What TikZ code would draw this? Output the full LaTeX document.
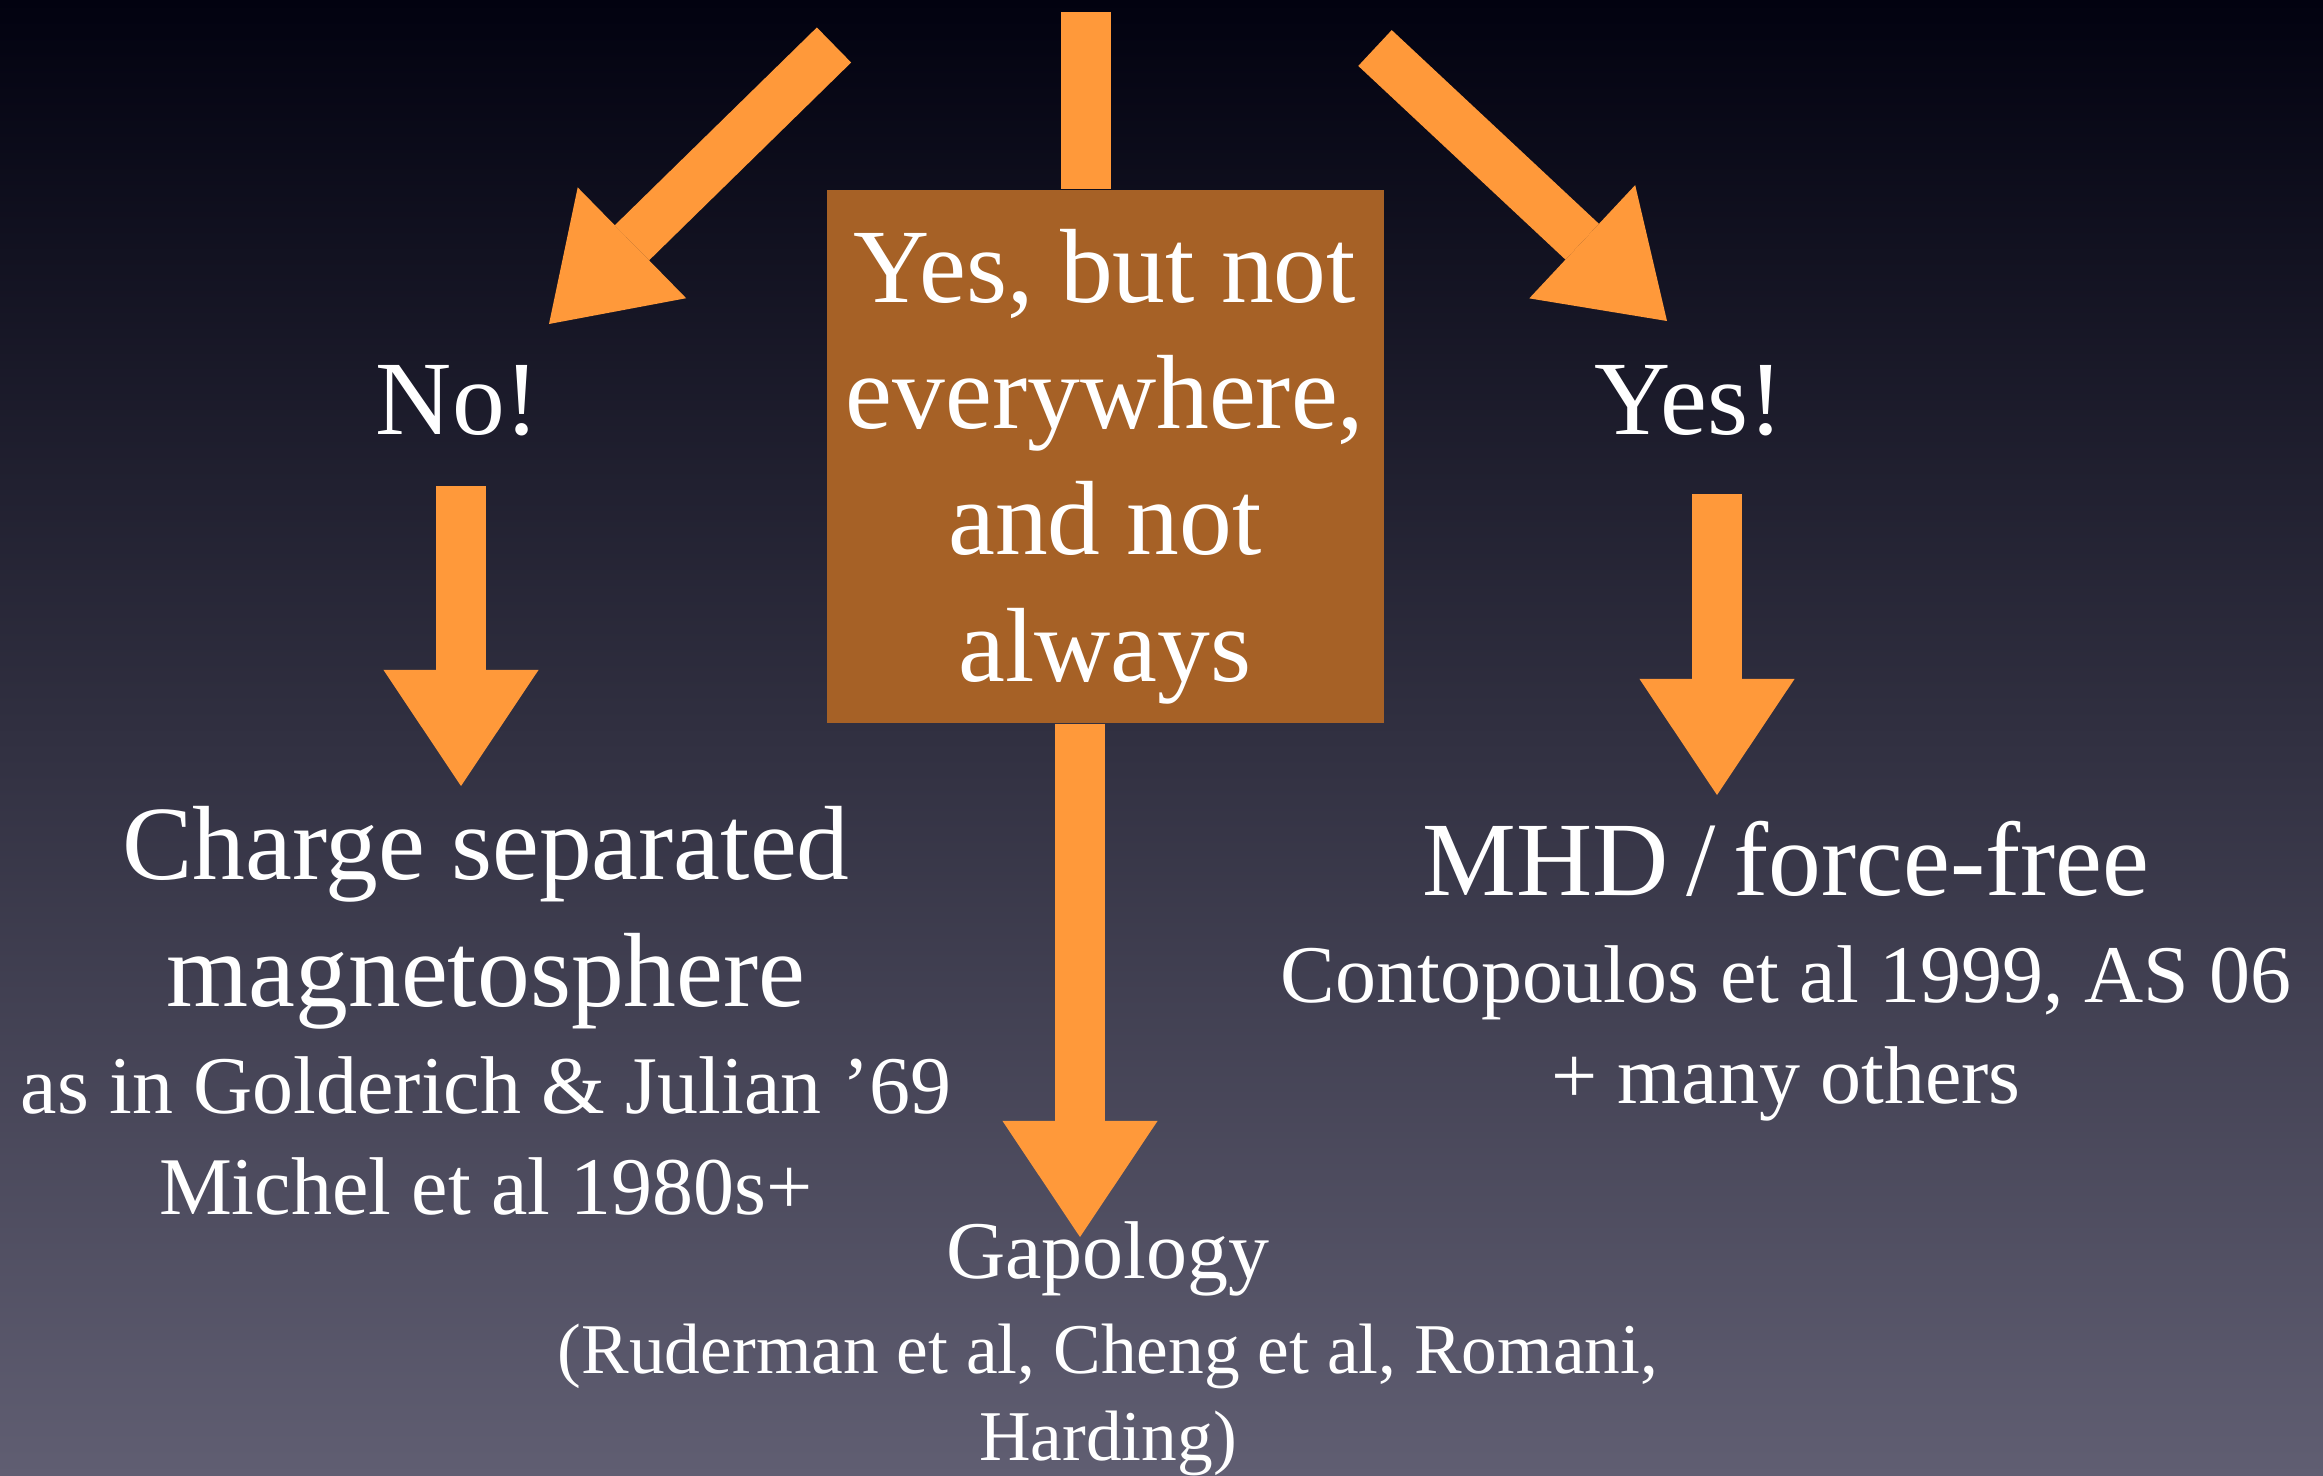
\documentclass[tikz,border=0pt]{standalone}
\usepackage{fontspec}
\setmainfont{Liberation Serif}
\usetikzlibrary{arrows.meta}

\definecolor{arroworange}{RGB}{255,153,58}
\definecolor{boxbrown}{RGB}{166,97,38}
\definecolor{bgtop}{RGB}{2,2,16}
\definecolor{bgmid}{RGB}{34,34,60}
\definecolor{bgbot}{RGB}{96,94,114}

\tikzset{
  bigarrow/.style={draw=arroworange, line width=0.49cm, -{Triangle[length=1.16cm, width=1.55cm, line width=0pt]}},
  bigtext/.style={text=white, align=center, inner sep=0pt, font=\fontsize{30}{35.85}\selectfont},
  smalltext/.style={text=white, align=center, inner sep=0pt, font=\fontsize{23.3}{28.7}\selectfont},
  tinytext/.style={text=white, align=center, inner sep=0pt, font=\fontsize{20.3}{24.7}\selectfont}
}

\begin{document}
\begin{tikzpicture}[x=0.01cm, y=-0.01cm]

\clip (0,0) rectangle (2323,1476);
\shade[top color=bgtop, middle color=bgmid, bottom color=bgbot] (0,0) rectangle (2323,1476);

% question box in the middle
\node[fill=boxbrown, minimum width=5.57cm, minimum height=5.33cm, inner sep=0pt] (mid) at (1105.5,456.5) {};
\node[bigtext, anchor=base] (midtext) at (1105,681) {Yes, but not\\everywhere,\\and not\\always};

\node[bigtext, anchor=base] (no) at (458,435) {No!};
\node[bigtext, anchor=base] (yes) at (1689,435) {Yes!};

% arrow ends
\coordinate (notail) at (834,45);
\coordinate (notip) at (549,324);
\coordinate (yestail) at (1375,48);
\coordinate (yestip) at (1667,321);
\coordinate (midtop) at (1086,12);
\coordinate (midtip) at (1080,1237);
\coordinate (chargetail) at (461,486);
\coordinate (chargetip) at (461,786);
\coordinate (mhdtail) at (1717,494);
\coordinate (mhdtip) at (1717,795);

\draw[bigarrow] (notail) -- (notip);
\draw[bigarrow] (yestail) -- (yestip);
\draw[draw=arroworange, line width=0.49cm] (midtop) -- (midtop |- mid.north);
\draw[bigarrow] (midtip |- mid.south) -- (midtip);
\draw[bigarrow] (chargetail) -- (chargetip);
\draw[bigarrow] (mhdtail) -- (mhdtip);

% answers
\node[bigtext, anchor=base] (charge) at (486,1006) {Charge separated\\magnetosphere};
\node[smalltext, anchor=base] (chargeref) at (486,1214) {as in Golderich \& Julian ’69\\Michel et al 1980s+};

\node[bigtext, anchor=base] (mhd) at (1786,895) {MHD\,/\,force-free};
\node[smalltext, anchor=base] (mhdref) at (1786,1103) {Contopoulos et al 1999, AS 06\\+ many others};

\node[smalltext, anchor=base] (gap) at (1108,1278) {Gapology};
\node[tinytext, anchor=base] (gapref) at (1108,1460) {(Ruderman et al, Cheng et al, Romani,\\Harding)};

\end{tikzpicture}
\end{document}
